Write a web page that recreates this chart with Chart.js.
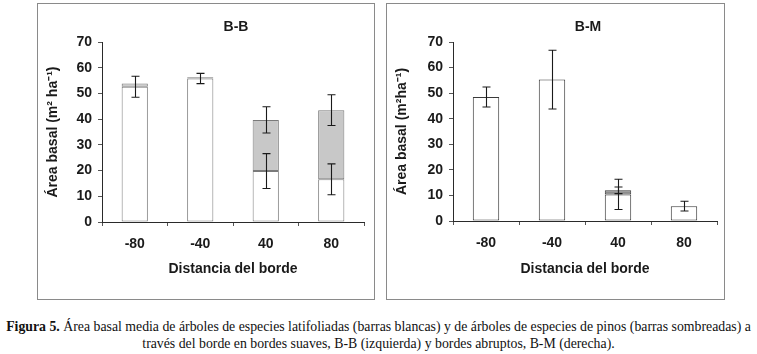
<!DOCTYPE html>
<html>
<head>
<meta charset="utf-8">
<script src="https://cdn.jsdelivr.net/npm/chart.js@4.4.1/dist/chart.umd.min.js"></script>
<style>
    body { margin: 0; background: #fff; width: 757px; height: 354px; position: relative; overflow: hidden; }
    .panel { position: absolute; top: 3px; height: 295px; border: 1px solid #8a8a8a; }
    #panelLeft { left: 37px; width: 336px; }
    #panelRight { left: 386px; width: 337px; }
    .panel canvas { display: block; }
    #caption {
        position: absolute; left: 0; top: 318px; width: 757px; white-space: nowrap;
        text-align: center; font-family: "Liberation Serif", "Times New Roman", serif;
        font-size: 13.8px; line-height: 17px; color: #111;
    }
</style>
</head>
<body>
<div class="panel" id="panelLeft"><canvas id="chartBB" width="336" height="295"></canvas></div>
<div class="panel" id="panelRight"><canvas id="chartBM" width="337" height="295"></canvas></div>
<div id="caption"><b>Figura 5.</b> Área basal media de árboles de especies latifoliadas (barras blancas) y de árboles de especies de pinos (barras sombreadas) a<br>través del borde en bordes suaves, B-B (izquierda) y bordes abruptos, B-M (derecha).</div>

<script>
// distance from the edge (m)
let categories = ['-80', '-40', '40', '80'];
let yTicks = [0, 10, 20, 30, 40, 50, 60, 70];

// B-B (soft edges)
let bbLatif = [52.6, 55.8, 19.8, 16.6];
let bbPinos = [1.3, 0.5, 19.9, 26.9];
let bbLatifErr = [4.1, 2.0, 6.8, 6.0];
let bbPinosErr = [0, 0, 5.1, 6.0];

// B-M (abrupt edges)
let bmLatif = [48.5, 55.3, 10.4, 5.8];
let bmPinos = [0, 0, 1.6, 0];
let bmLatifErr = [3.9, 11.5, 5.9, 1.9];
let bmPinosErr = [0, 0, 1.3, 0];

const FONT = '"Liberation Sans", Arial, sans-serif';

// draws +/- error whiskers at the top of each stacked segment
const errorBars = {
    id: 'errorBars',
    afterDatasetsDraw(chart) {
        let ctx = chart.ctx;
        let yScale = chart.scales.y;
        chart.data.datasets.forEach((ds, di) => {
            if (!ds.errors) return;
            let meta = chart.getDatasetMeta(di);
            meta.data.forEach((bar, i) => {
                let err = ds.errors[i];
                if (!err) return;
                let v = yScale.getValueForPixel(bar.y);
                let yTop = yScale.getPixelForValue(v + err);
                let yBot = yScale.getPixelForValue(v - err);
                let x = Math.round(bar.x) + 0.5;
                ctx.save();
                ctx.strokeStyle = '#1a1a1a';
                ctx.lineWidth = 1.1;
                ctx.beginPath();
                ctx.moveTo(x, yTop);
                ctx.lineTo(x, yBot);
                ctx.moveTo(x - 4, yTop);
                ctx.lineTo(x + 4, yTop);
                ctx.moveTo(x - 4, yBot);
                ctx.lineTo(x + 4, yBot);
                ctx.stroke();
                ctx.restore();
            });
        });
    }
};

// panel title centred over the plot area
const panelTitle = {
    id: 'panelTitle',
    afterDraw(chart, args, opts) {
        let ctx = chart.ctx;
        let area = chart.chartArea;
        ctx.save();
        ctx.font = 'bold 14px ' + FONT;
        ctx.fillStyle = '#1a1a1a';
        ctx.textAlign = 'center';
        ctx.textBaseline = 'middle';
        ctx.fillText(opts.text, (area.left + area.right) / 2 + 3, 23);
        ctx.restore();
    }
};

makeChart = (canvasId, title, yTitle, latif, pinos, latifErr, pinosErr, barBorder, pinoFill, yWidth, xHeight, rightPad) => {
    let ctx = document.getElementById(canvasId).getContext('2d');
    return new Chart(ctx, {
        type: 'bar',
        data: {
            labels: categories,
            datasets: [{
                label: 'Latifoliadas',
                data: latif,
                errors: latifErr,
                backgroundColor: '#ffffff',
                borderColor: barBorder,
                borderWidth: 1,
                borderSkipped: false
            }, {
                label: 'Pinos',
                data: pinos,
                errors: pinosErr,
                backgroundColor: pinoFill,
                borderColor: barBorder,
                borderWidth: 1,
                borderSkipped: false
            }]
        },
        options: {
            responsive: false,
            animation: false,
            devicePixelRatio: 1,
            layout: {
                padding: { top: 38, right: rightPad, left: 0, bottom: 0 }
            },
            datasets: {
                bar: { categoryPercentage: 1.0, barPercentage: 0.4 }
            },
            scales: {
                x: {
                    stacked: true,
                    afterFit: (scale) => { scale.height = xHeight; },
                    border: { display: true, color: '#2a2a2a', width: 1 },
                    grid: { drawOnChartArea: false, drawTicks: true, tickLength: 4, color: '#555', offset: true },
                    ticks: { color: '#1a1a1a', padding: 10, font: { family: FONT, size: 14, weight: 'bold' } },
                    title: {
                        display: true,
                        text: 'Distancia del borde',
                        color: '#1a1a1a',
                        padding: { top: 0, bottom: 21 },
                        font: { family: FONT, size: 14, weight: 'bold' }
                    }
                },
                y: {
                    stacked: true,
                    min: 0,
                    max: 70,
                    afterFit: (scale) => { scale.width = yWidth; },
                    afterBuildTicks: (scale) => { scale.ticks = yTicks.map(v => ({ value: v })); },
                    border: { display: true, color: '#2a2a2a', width: 1 },
                    grid: { drawOnChartArea: false, drawTicks: true, tickLength: 4, color: '#555' },
                    ticks: { color: '#1a1a1a', padding: 6, font: { family: FONT, size: 14, weight: 'bold' } },
                    title: {
                        display: true,
                        text: yTitle,
                        color: '#1a1a1a',
                        padding: { top: 7, bottom: 0 },
                        font: { family: FONT, size: 14, weight: 'bold' }
                    }
                }
            },
            plugins: {
                legend: { display: false },
                tooltip: { enabled: false },
                panelTitle: { text: title }
            }
        },
        plugins: [errorBars, panelTitle]
    });
}

makeChart('chartBB', 'B-B', 'Área basal (m² ha⁻¹)', bbLatif, bbPinos, bbLatifErr, bbPinosErr, '#7a7a7a', '#c8c8c8', 64, 77, 10);
makeChart('chartBM', 'B-M', 'Área basal (m²ha⁻¹)', bmLatif, bmPinos, bmLatifErr, bmPinosErr, '#3a3a3a', '#8c8c8c', 66, 78, 7);
</script>
</body>
</html>
